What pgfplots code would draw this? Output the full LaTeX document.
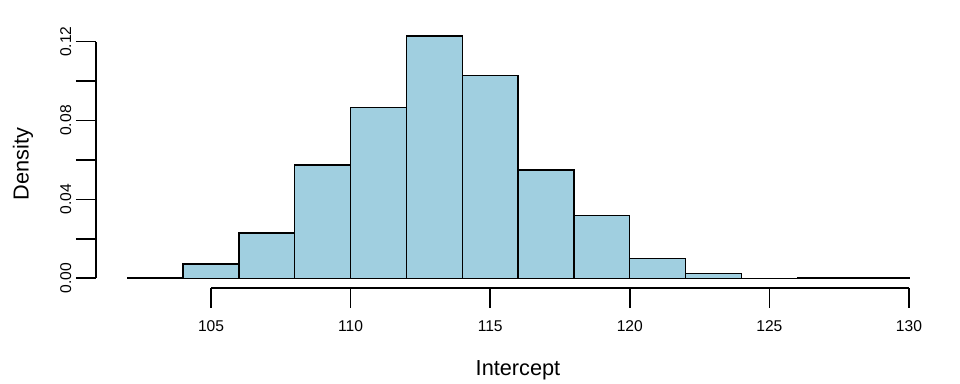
\documentclass[border=0pt]{standalone}
\usepackage{pgfplots}
\pgfplotsset{compat=1.18}
\usepackage{fontspec}
\setmainfont{Liberation Sans}
\definecolor{barfill}{RGB}{160,207,224}
\begin{document}
\begin{tikzpicture}[x=0.75pt,y=0.75pt]
\useasboundingbox (0,0) rectangle (960,384);
\begin{axis}[
  at={(72pt,72pt)}, anchor=south west,
  scale only axis, width=633.2pt, height=196.2pt,
  xmin=100.88, xmax=131.12, ymin=-0.0049, ymax=0.1277,
  axis lines*=left, axis line style={draw=none},
  clip=false,
  tick align=outside,
  major tick length=15pt,
  tick style={black, line width=1.3pt},
  xtick={105,110,115,120,125,130},
  xticklabels={105,110,115,120,125,130},
  ytick={0,0.02,0.04,0.06,0.08,0.10,0.12},
  yticklabels={0.00,{},0.04,{},0.08,{},0.12},
  ticklabel style={font=\fontsize{11.7pt}{13pt}\selectfont},
  xticklabel style={yshift=-6pt},
  yticklabel style={rotate=90, anchor=south, xshift=0pt},
]
\addplot[ybar interval, fill=barfill, draw=black, line width=1pt] coordinates {
(102,0.0005) (104,0.0073) (106,0.0229) (108,0.0575) (110,0.0867)
(112,0.1228) (114,0.1027) (116,0.0549) (118,0.0320) (120,0.0102)
(122,0.0025) (124,0.0) (126,0.0005) (128,0.0005) (130,0.0005)
};
\draw[line width=1.3pt] (axis cs:105,-0.0049) -- (axis cs:130,-0.0049);
\draw[line width=1.3pt] (axis cs:100.88,0) -- (axis cs:100.88,0.12);
\end{axis}
\node[font=\fontsize{16.3pt}{19pt}\selectfont] at (518,14) {Intercept};
\node[font=\fontsize{16.3pt}{19pt}\selectfont, rotate=90] at (23,220) {Density};
\end{tikzpicture}
\end{document}
